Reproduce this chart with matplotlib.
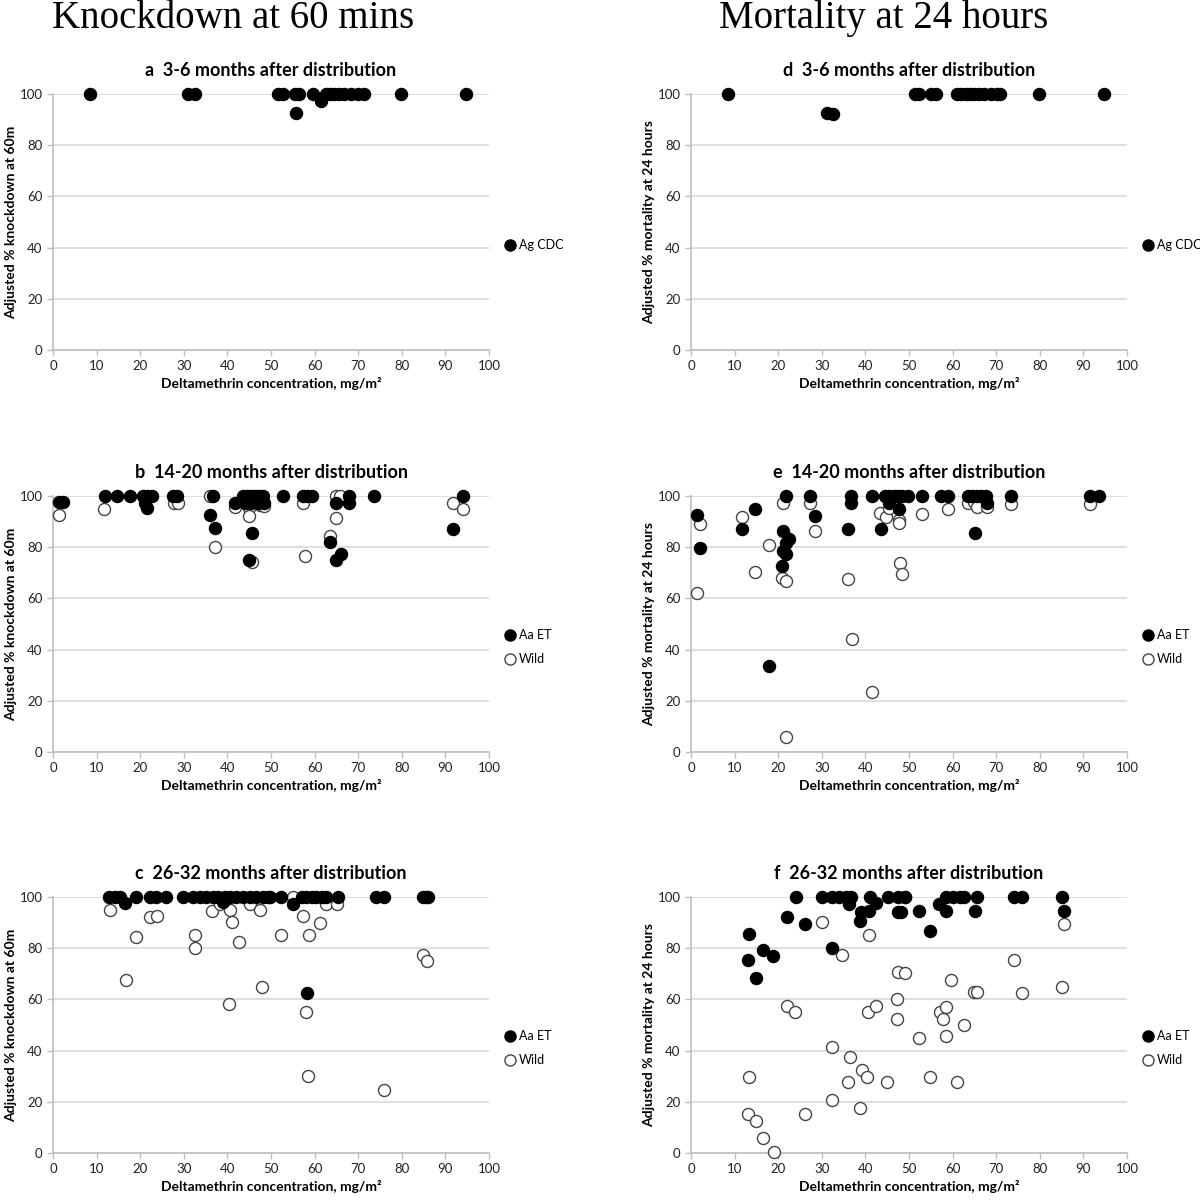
import matplotlib
matplotlib.use("Agg")
import matplotlib.pyplot as plt
from matplotlib.lines import Line2D

# ---- data ----
# panel a: knockdown, 3-6 months, Ag CDC
a_x = [8.5, 31.0, 32.5, 51.6, 52.7, 55.4, 56.5, 55.8, 59.6, 61.5, 62.5, 63.5,
       64.5, 65.5, 66.8, 68.4, 69.9, 71.4, 79.8, 94.7]
a_y = [100, 100, 100, 100, 100, 100, 100, 92.5, 100, 97.4, 100, 100,
       100, 100, 100, 100, 100, 100, 100, 100]

# panel d: mortality, 3-6 months, Ag CDC
d_x = [8.5, 31.1, 32.6, 51.3, 52.4, 55.1, 56.2, 61, 62, 63, 64, 65, 66,
       67.3, 68.8, 70.3, 71, 79.9, 94.7]
d_y = [100, 92.5, 92.3, 100, 100, 100, 100, 100, 100, 100, 100, 100, 100,
       100, 100, 100, 100, 100, 100]

# panel b: knockdown, 14-20 months
b_et_x = [1.3, 2.3, 11.9, 14.6, 17.7, 20.7, 21.5, 22.6, 21.1, 21.6, 27.6, 28.5,
          36.6, 36.0, 37.2, 41.7, 43.6, 44.5, 45.2, 46.0, 46.7, 47.5, 48.2,
          44.0, 45.5, 47.0, 48.3, 45.6, 45.0, 52.8, 57.4, 58.3, 59.3, 65.0,
          63.5, 64.8, 66.0, 67.9, 67.9, 73.6, 94.0, 91.8]
b_et_y = [97.8, 97.8, 100, 100, 100, 100, 100, 100, 97.1, 95.2, 100, 100,
          100, 92.6, 87.4, 97.4, 100, 100, 100, 100, 100, 100, 100,
          97.4, 97.4, 97.4, 97.4, 85.7, 75.0, 100, 100, 100, 100, 97.4,
          81.9, 75.0, 77.3, 100, 97.4, 100, 100, 87.2]
b_wild_x = [1.4, 11.7, 27.7, 28.6, 35.9, 37.2, 41.7, 45.0, 45.0, 45.7, 44.5,
            47.5, 48.5, 57.4, 64.8, 63.5, 57.8, 64.9, 65.8, 91.8, 94.0]
b_wild_y = [92.6, 94.8, 97.4, 97.4, 100, 80.2, 95.6, 95.2, 92.2, 74.3, 97.4,
            96.5, 96.0, 97.4, 91.5, 84.4, 76.6, 100, 100, 97.4, 94.8]

# panel e: mortality, 14-20 months
e_et_x = [1.3, 2.1, 11.6, 14.8, 21.7, 21.0, 22.5, 21.9, 21.0, 21.8, 20.8, 17.9,
          27.4, 28.4, 36.0, 36.8, 36.7, 41.6, 43.6, 44.4, 45.5, 46.5, 47.5,
          48.5, 45.5, 47.7, 49.8, 53.0, 57.4, 58.9, 63.5, 64.5, 65.5, 66.5,
          67.7, 67.8, 65.1, 73.4, 91.5, 93.6]
e_et_y = [92.6, 79.8, 87.2, 94.8, 100, 86.4, 83.1, 81.5, 78.6, 77.3, 72.7, 33.6,
          100, 92.3, 87.2, 100, 97.4, 100, 87.2, 100, 100, 100, 100,
          100, 97.4, 94.8, 100, 100, 100, 100, 100, 100, 100, 100,
          100, 97.4, 85.4, 100, 100, 100]
e_wild_x = [2.1, 1.5, 11.6, 14.8, 17.9, 21.0, 20.8, 21.7, 21.7, 27.4, 28.4,
            36.0, 36.9, 41.6, 43.4, 44.8, 45.5, 47.7, 47.7, 48.0, 48.3, 53.0,
            58.9, 63.5, 65.0, 65.7, 67.8, 73.4, 91.5]
e_wild_y = [89.1, 62.2, 91.9, 70.2, 80.7, 97.4, 67.8, 66.9, 5.7, 97.4, 86.3,
            67.4, 44.1, 23.5, 93.2, 91.9, 95.2, 90.6, 89.6, 73.7, 69.4, 92.8,
            94.8, 97.4, 97.5, 95.6, 95.6, 97.0, 97.0]

# panel c: knockdown, 26-32 months
c_et_x = [12.9, 14.2, 15.4, 16.5, 19.0, 22.2, 23.7, 26.0, 29.9, 32.1, 33.7,
          35.2, 36.7, 37.9, 39.0, 39.5, 40.5, 42.0, 43.6, 45.1, 46.6, 48.1,
          49.3, 49.8, 52.4, 55.1, 57.0, 58.1, 59.3, 60.4, 61.6, 62.7, 65.4,
          58.2, 74.1, 75.9, 84.8, 85.5, 86.1]
c_et_y = [100, 100, 100, 97.7, 100, 100, 100, 100, 100, 100, 100,
          100, 100, 100, 97.9, 100, 100, 100, 100, 100, 100, 100,
          100, 100, 100, 97.3, 100, 100, 100, 100, 100, 100, 100,
          62.5, 100, 100, 100, 100, 100]
c_wild_x = [13.1, 16.7, 19.0, 22.2, 23.9, 32.5, 32.5, 36.5, 38.4, 40.5, 41.0,
            42.7, 45.1, 47.5, 40.4, 48.0, 55.1, 62.6, 65.2, 57.3, 61.2, 52.4,
            58.8, 58.0, 58.5, 75.9, 84.8, 85.7]
c_wild_y = [95.0, 67.5, 84.2, 92.1, 92.5, 85.2, 80.0, 94.7, 97.3, 95.0, 90.1,
            82.5, 97.3, 95.0, 58.0, 65.0, 100, 97.3, 97.3, 92.5, 89.7, 85.2,
            85.2, 55.0, 30.0, 24.5, 77.4, 75.0]

# panel f: mortality, 26-32 months
f_et_x = [24.0, 30.1, 32.4, 33.9, 35.6, 36.8, 36.2, 41.0, 42.5, 45.2, 47.4,
          49.0, 39.1, 40.8, 47.4, 48.2, 22.1, 26.1, 38.7, 13.3, 16.5, 18.8,
          32.4, 13.1, 15.0, 49.2, 52.4, 54.8, 57.0, 58.5, 60.0, 61.6, 62.7,
          58.5, 65.6, 65.2, 74.1, 76.0, 85.0, 85.5]
f_et_y = [100, 100, 100, 100, 100, 100, 97.3, 100, 97.5, 100, 100,
          100, 94.2, 94.5, 94.3, 94.3, 92.2, 89.6, 90.5, 85.5, 79.2, 77.0,
          80.0, 75.4, 68.5, 100, 94.6, 86.8, 97.3, 100, 100, 100, 100,
          94.6, 100, 94.6, 100, 100, 100, 94.6]
f_wild_x = [30.1, 40.8, 34.6, 47.4, 49.0, 85.5, 74.1, 59.7, 65.0, 65.5, 76.0,
            85.0, 22.1, 23.9, 40.6, 42.5, 47.3, 47.3, 52.3, 57.1, 58.6, 57.9,
            58.5, 62.6, 32.4, 36.4, 39.3, 40.4, 36.0, 45.0, 54.9, 61.0, 13.3,
            32.4, 38.7, 26.1, 13.1, 15.0, 16.5, 19.0]
f_wild_y = [90.2, 85.1, 77.4, 70.5, 70.2, 89.4, 75.3, 67.6, 62.9, 62.9, 62.4,
            65.0, 57.6, 55.0, 55.0, 57.6, 60.0, 52.3, 44.8, 55.0, 57.0, 52.3,
            45.8, 50.0, 41.2, 37.5, 32.4, 29.8, 27.7, 27.7, 29.8, 27.7, 29.8,
            20.7, 17.4, 15.2, 15.3, 12.6, 5.7, 0.2]

SANS = ["Lato", "DejaVu Sans"]
SERIF = ["Liberation Serif", "DejaVu Serif"]
GRID = "#d9d9d9"
SPINE = "#bfbfbf"
MS = 75
LEG = dict(loc="center left", bbox_to_anchor=(1.025, 0.41), frameon=False,
           handlelength=0.8, handletextpad=0.35, labelspacing=0.95,
           borderaxespad=0, prop={"family": SANS, "size": 9})


def style_axes(ax, letter, title, ylabel):
    ax.set_xlim(0, 100)
    ax.set_ylim(0, 100)
    ax.set_xticks(range(0, 101, 10))
    ax.set_yticks(range(0, 101, 20))
    ax.yaxis.grid(True, color=GRID, lw=1.2)
    ax.set_axisbelow(True)
    for s in ["top", "right"]:
        ax.spines[s].set_visible(False)
    for s in ["left", "bottom"]:
        ax.spines[s].set_color(SPINE)
        ax.spines[s].set_linewidth(1.2)
    ax.tick_params(axis="both", colors=SPINE, labelcolor="#222222",
                   labelsize=9.5, length=4, width=1)
    for lab in ax.get_xticklabels() + ax.get_yticklabels():
        lab.set_family(SANS)
    ax.set_xlabel("Deltamethrin concentration, mg/m²", family=SANS,
                  fontsize=10, fontweight="bold", labelpad=3)
    ax.set_ylabel(ylabel, family=SANS, fontsize=10, fontweight="bold")
    ax.yaxis.set_label_coords(-0.083, 0.5)
    ax.text(0.5, 1.07, f"{letter}  {title}", transform=ax.transAxes,
            ha="center", va="baseline", family=SANS, fontsize=13,
            fontweight="bold")


def scatter_pair(ax, et_x, et_y, wild_x, wild_y):
    ax.scatter(wild_x, wild_y, s=MS, facecolor="white", edgecolor="#444444",
               linewidth=1, zorder=3, clip_on=False)
    ax.scatter(et_x, et_y, s=MS, color="black", zorder=4, clip_on=False)
    handles = [Line2D([], [], ls="", marker="o", ms=8, color="black"),
               Line2D([], [], ls="", marker="o", ms=8, mfc="white",
                      mec="#444444")]
    ax.legend(handles, ["Aa ET", "Wild"], **LEG)


def scatter_single(ax, x, y):
    ax.scatter(x, y, s=MS, color="black", zorder=4, clip_on=False)
    ax.legend([Line2D([], [], ls="", marker="o", ms=8, color="black")],
              ["Ag CDC"], **LEG)


fig = plt.figure(figsize=(12, 12.03), dpi=100)

lefts = [0.0442, 0.5758]
bottoms = [0.7091, 0.3749, 0.0416]
w, h = 0.3633, 0.2128
axes = [[fig.add_axes([l, b, w, h]) for l in lefts] for b in bottoms]

kd_label = "Adjusted % knockdown at 60m"
mo_label = "Adjusted % mortality at 24 hours"

scatter_single(axes[0][0], a_x, a_y)
style_axes(axes[0][0], "a", "3-6 months after distribution", kd_label)

scatter_single(axes[0][1], d_x, d_y)
style_axes(axes[0][1], "d", "3-6 months after distribution", mo_label)

scatter_pair(axes[1][0], b_et_x, b_et_y, b_wild_x, b_wild_y)
style_axes(axes[1][0], "b", "14-20 months after distribution", kd_label)

scatter_pair(axes[1][1], e_et_x, e_et_y, e_wild_x, e_wild_y)
style_axes(axes[1][1], "e", "14-20 months after distribution", mo_label)

scatter_pair(axes[2][0], c_et_x, c_et_y, c_wild_x, c_wild_y)
style_axes(axes[2][0], "c", "26-32 months after distribution", kd_label)

scatter_pair(axes[2][1], f_et_x, f_et_y, f_wild_x, f_wild_y)
style_axes(axes[2][1], "f", "26-32 months after distribution", mo_label)

# column headers (top is cropped in the reference)
fig.text(0.194, 1 - 28 / 1203, "Knockdown at 60 mins", ha="center",
         va="baseline", family=SERIF, fontsize=28)
fig.text(0.736, 1 - 28 / 1203, "Mortality at 24 hours", ha="center",
         va="baseline", family=SERIF, fontsize=28)

fig.savefig("out.png", dpi=100)
